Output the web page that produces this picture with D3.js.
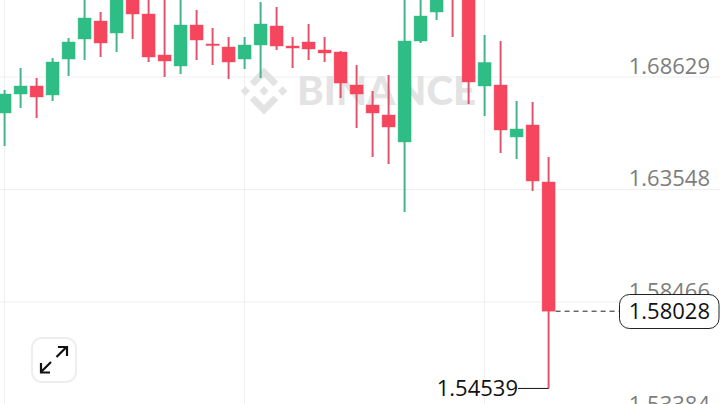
<!DOCTYPE html>
<html><head><meta charset="utf-8">
<script src="https://cdn.jsdelivr.net/npm/d3@7"></script>
<style>html,body{margin:0;padding:0;background:#fff;overflow:hidden}svg{display:block}text{font-family:"Open Sans",sans-serif}</style>
</head><body><svg id="c" width="720" height="404"></svg>
<script>
const opens  = [1.66981,1.67838,1.68200,1.67793,1.69419,1.70323,1.71136,1.70594,1.72536,1.71452,1.69600,1.69103,1.70955,1.70097,1.69961,1.69419,1.70052,1.70910,1.70006,1.70187,1.69826,1.69735,1.68245,1.67342,1.66890,1.65671,1.70232,1.71542,1.72536,1.72536,1.68200,1.68245,1.65897,1.66439,1.63864];
const closes = [1.67838,1.68200,1.67703,1.69284,1.70187,1.71271,1.70142,1.72536,1.71452,1.69510,1.69329,1.70955,1.70278,1.70029,1.69284,1.70052,1.71000,1.70006,1.69916,1.69871,1.69690,1.68335,1.67838,1.66981,1.66348,1.70232,1.71361,1.72536,1.72310,1.68380,1.69261,1.66213,1.66258,1.63909,1.58028];
const highs  = [1.68019,1.69013,1.68561,1.69464,1.70368,1.72310,1.71542,1.72310,1.72536,1.72310,1.72536,1.72310,1.71632,1.70819,1.70413,1.70413,1.71994,1.71768,1.70413,1.71000,1.70413,1.69780,1.69148,1.67974,1.68696,1.72310,1.72310,1.72310,1.72536,1.72536,1.70503,1.70232,1.67522,1.67477,1.64993];
const lows   = [1.65490,1.67206,1.66755,1.67522,1.68651,1.69374,1.69510,1.69735,1.70323,1.69284,1.68606,1.68742,1.69374,1.69148,1.68516,1.68967,1.68561,1.69826,1.69013,1.69374,1.69284,1.67658,1.66303,1.64993,1.64677,1.62509,1.70142,1.71181,1.70413,1.67387,1.66845,1.65174,1.64903,1.63458,1.54539];
const tickValues = [1.68629,1.63548,1.58466,1.53384];
const tickLabels = ["1.68629","1.63548","1.58466","1.53384"];
const lastPrice = 1.58028, lowPrice = 1.54539;
const verticalGridIdx = [0,15,30];
const watermark = "BINANCE";

const svg = d3.select("#c");
const x = d3.scaleLinear().domain([0,34]).range([4.6,548.6]);
const y = d3.scaleLinear().domain([1.68629,1.53384]).range([76.5,414]);
const UP="#2EBD85", DOWN="#F6465D", UPW="#45B48C", DOWNW="#DF5570", GRID="#EFEFEF";

// grid
svg.append("g").selectAll("line").data(verticalGridIdx).join("line")
  .attr("x1",d=>x(d)).attr("x2",d=>x(d)).attr("y1",0).attr("y2",404)
  .attr("stroke",GRID).attr("stroke-width",1);
const axis = d3.axisRight(y).tickValues(tickValues).tickSize(720).tickFormat((d,i)=>tickLabels[i]);
const ag = svg.append("g").call(axis);
ag.select(".domain").remove();
ag.selectAll("line").attr("stroke",GRID).attr("stroke-width",1);
ag.selectAll("text").attr("x",710).attr("dy",-3).attr("text-anchor","end")
  .style("font-family",'"Open Sans",sans-serif').style("font-size","22px").attr("fill","#7d7d7d");

// watermark
const wm = svg.append("g").attr("fill","#E3E3E3");
const logo = wm.append("g").attr("transform","translate(264,91)");
[[-18.7,0,4.7],[18.7,0,4.7],[0,0,4.7]].forEach(([cx,cy,r])=>{
  logo.append("path").attr("d",d3.line()([[cx-r,cy],[cx,cy-r],[cx+r,cy],[cx,cy+r]])+"Z");
});
logo.append("path").attr("d",d3.line()([[0,-23.5],[14.2,-9.3],[9.5,-4.6],[0,-14.1],[-9.5,-4.6],[-14.2,-9.3]])+"Z");
logo.append("path").attr("d",d3.line()([[0,23.5],[14.2,9.3],[9.5,4.6],[0,14.1],[-9.5,4.6],[-14.2,9.3]])+"Z");
wm.append("text").attr("x",297).attr("y",105).attr("font-size",39).attr("font-weight",900)
  .style("font-family",'Lato,sans-serif').attr("textLength",179).attr("lengthAdjust","spacingAndGlyphs").text(watermark);

// candles
const idx = d3.range(opens.length);
const col = i => closes[i]>=opens[i]?UP:DOWN;
const colW = i => closes[i]>=opens[i]?UPW:DOWNW;
const g = svg.append("g");
g.selectAll("line").data(idx).join("line")
  .attr("x1",x).attr("x2",x).attr("y1",i=>y(highs[i])).attr("y2",i=>y(lows[i]))
  .attr("stroke",colW).attr("stroke-width",2);
g.selectAll("rect").data(idx).join("rect")
  .attr("x",i=>x(i)-6.5).attr("width",13)
  .attr("y",i=>y(Math.max(opens[i],closes[i])))
  .attr("height",i=>Math.max(1.5,Math.abs(y(opens[i])-y(closes[i]))))
  .attr("fill",col).attr("stroke",col).attr("stroke-opacity",0.4).attr("stroke-width",1);

// last price
const ly = y(lastPrice), lowY = y(lowPrice), lastX = x(34);
svg.append("line").attr("x1",lastX+7).attr("x2",619).attr("y1",ly).attr("y2",ly)
  .attr("stroke","#222").attr("stroke-width",1).attr("stroke-dasharray","5 4");
svg.append("rect").attr("x",619.5).attr("y",294.5).attr("width",99.5).attr("height",34).attr("rx",10)
  .attr("fill","#fff").attr("stroke","#222").attr("stroke-width",1);
svg.append("text").attr("x",710).attr("y",ly+8).attr("text-anchor","end").attr("font-size",22).attr("fill","#111").text(d3.format(".5f")(lastPrice));

// low label
svg.append("line").attr("x1",518).attr("x2",lastX).attr("y1",lowY).attr("y2",lowY).attr("stroke","#111").attr("stroke-width",1);
svg.append("text").attr("x",518).attr("y",lowY+8).attr("text-anchor","end").attr("font-size",22).attr("fill","#111").text(d3.format(".5f")(lowPrice));

// expand button
const b = svg.append("g");
b.append("rect").attr("x",32).attr("y",338).attr("width",44).attr("height",44).attr("rx",10).attr("fill","#fff").attr("stroke","#EEE").attr("stroke-width",2);
b.append("path").attr("d","M41 372L51 362M56.500 357L66 347.500").attr("stroke","#111").attr("stroke-width",2.2).attr("fill","none");
b.append("path").attr("d","M58 347H67V356M41 363V372.500H50").attr("stroke","#111").attr("stroke-width",2.2).attr("fill","none");
</script></body></html>
